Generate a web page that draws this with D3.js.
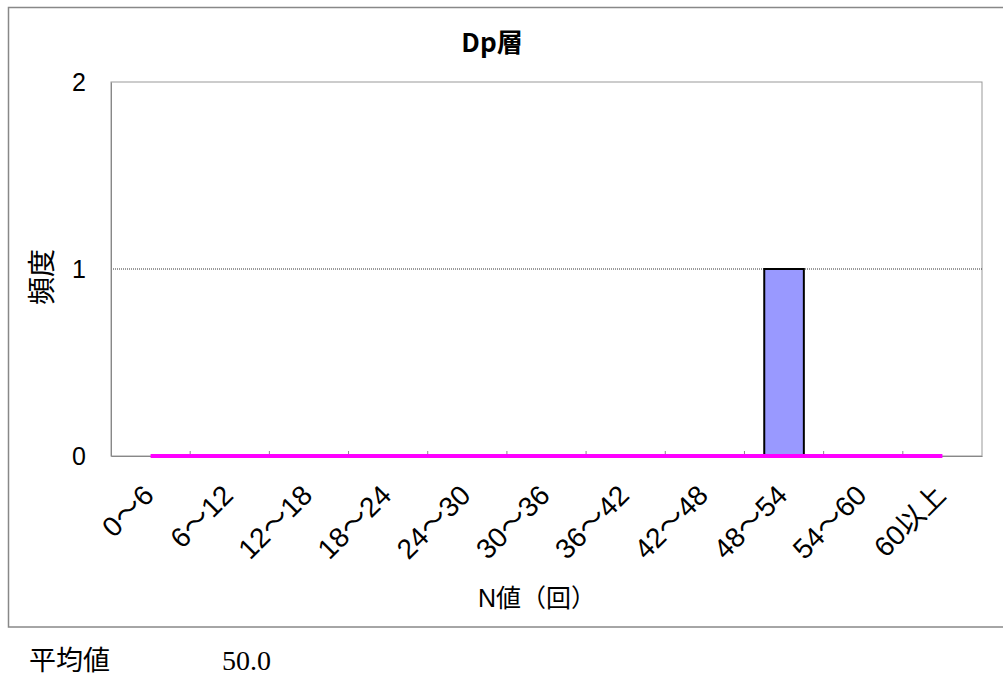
<!DOCTYPE html>
<html><head><meta charset="utf-8">
<script src="https://cdn.jsdelivr.net/npm/d3@7"></script>
<style>body{margin:0;background:#fff}svg{display:block}</style>
</head><body>
<svg id="c" width="1003" height="677"></svg>
<script>
const categories = ["0～6","6～12","12～18","18～24","24～30","30～36","36～42","42～48","48～54","54～60","60以上"];
const frequency = [0,0,0,0,0,0,0,0,1,0,0];
const curve = [0,0,0,0,0,0,0,0,0,0,0];
const yTicks = [0,1,2];
const title = "Dp層";
const yLabel = "頻度";
const xLabel = "N値（回）";
const meanLabel = "平均値";
const meanValue = "50.0";

const svg = d3.select("#c");
const jp = "'Noto Sans CJK JP', sans-serif";
const lat = "'Liberation Sans', 'Noto Sans CJK JP', sans-serif";
const m = {l:111, r:982, t:82, b:456};

// outer chart frame
svg.append("rect").attr("x",8.5).attr("y",7.5).attr("width",1010).attr("height",619.5)
  .attr("fill","#fff").attr("stroke","#888").attr("stroke-width",1.5);

const x = d3.scaleBand().domain(categories).range([m.l,m.r]).paddingInner(0).paddingOuter(0);
const y = d3.scaleLinear().domain([0,2]).range([m.b,m.t]);

// plot area
svg.append("rect").attr("x",m.l).attr("y",m.t).attr("width",m.r-m.l).attr("height",m.b-m.t)
  .attr("fill","#fff").attr("stroke","#999").attr("stroke-width",1);

// grid
svg.append("g").selectAll("line").data(yTicks.filter(d=>d>0 && d<2)).join("line")
  .attr("x1",m.l).attr("x2",m.r).attr("y1",d=>y(d)).attr("y2",d=>y(d))
  .attr("stroke","#333").attr("stroke-width",1).attr("stroke-dasharray","1,1");

// y axis
const ya = svg.append("g").attr("transform",`translate(${m.l},0)`)
  .call(d3.axisLeft(y).tickValues(yTicks).tickFormat(d3.format("d")).tickSize(0).tickPadding(25));
ya.select(".domain").attr("stroke","#888");
ya.selectAll("text").attr("font-family","'Liberation Sans', Arial, sans-serif").attr("font-size",25).attr("fill","#000");

// x axis
const xa = svg.append("g").attr("transform",`translate(0,${m.b})`)
  .call(d3.axisBottom(x).tickSize(0).tickFormat(""));
xa.select(".domain").attr("stroke","#888");
svg.append("g").selectAll("line").data(categories.slice(1)).join("line")
  .attr("x1",d=>x(d)).attr("x2",d=>x(d)).attr("y1",m.b).attr("y2",m.b-5)
  .attr("stroke","#888").attr("stroke-width",1);

// bars
svg.append("g").selectAll("rect").data(categories).join("rect")
  .attr("x",d=>x(d)+x.bandwidth()*0.25).attr("width",x.bandwidth()*0.5)
  .attr("y",(d,i)=>y(frequency[i])).attr("height",(d,i)=>y(0)-y(frequency[i]))
  .attr("fill","#9999ff").attr("stroke","#000").attr("stroke-width",2)
  .style("display",(d,i)=>frequency[i]>0?null:"none");

// magenta line
svg.append("path").datum(curve)
  .attr("d",d3.line().x((d,i)=>x(categories[i])+x.bandwidth()/2).y(d=>y(d)))
  .attr("fill","none").attr("stroke","#ff00ff").attr("stroke-width",4);

// x tick labels
svg.append("g").selectAll("text").data(categories).join("text")
  .attr("transform",d=>`translate(${x(d)+x.bandwidth()/2+5},${m.b+41}) rotate(-45)`)
  .attr("text-anchor","end")
  .attr("font-family",lat).attr("font-size",28).attr("fill","#000")
  .text(d=>d);

// title
svg.append("text").attr("x",492).attr("y",52).attr("text-anchor","middle")
  .attr("font-family",jp).attr("font-weight","bold").attr("font-size",26).text(title);

// y label
svg.append("text").attr("transform","translate(52,277) rotate(-90)").attr("text-anchor","middle")
  .attr("font-family",jp).attr("font-size",28).text(yLabel);

// x label
svg.append("text").attr("x",537).attr("y",607).attr("text-anchor","middle")
  .attr("font-family",lat).attr("font-size",25).text(xLabel);

// mean
svg.append("text").attr("x",29).attr("y",670).attr("font-family",jp).attr("font-size",27).text(meanLabel);
svg.append("text").attr("x",222).attr("y",670).attr("font-family","'Liberation Serif', serif").attr("font-size",28).text(meanValue);
</script>
</body></html>
